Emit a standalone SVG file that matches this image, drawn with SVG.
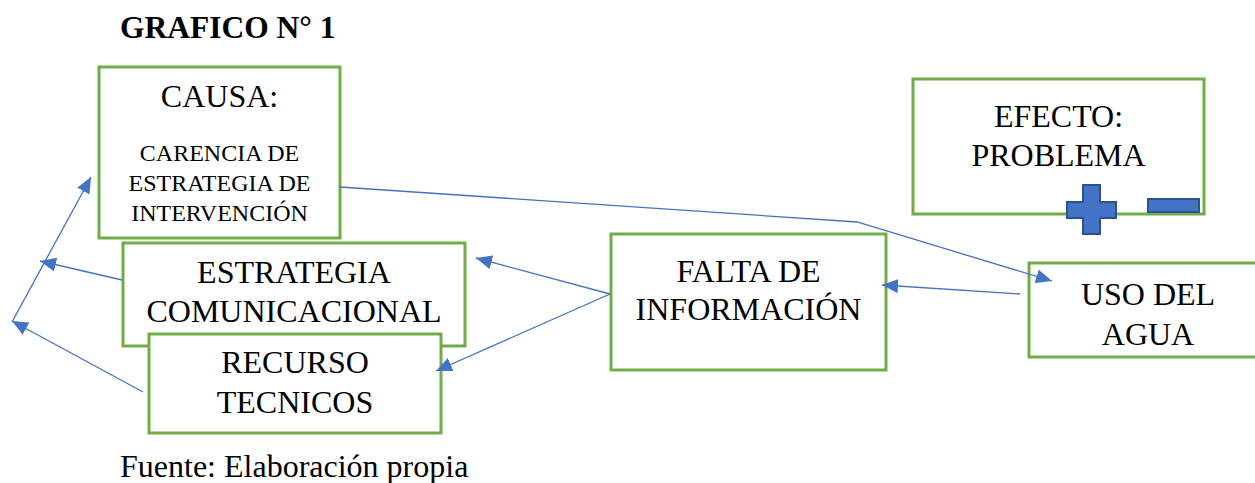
<svg xmlns="http://www.w3.org/2000/svg" width="1255" height="483" viewBox="0 0 1255 483">
<defs>
<style>
.box{fill:#fff;stroke:#70AD47;stroke-width:3}
.t{font-family:"Liberation Serif","Times New Roman",serif;font-size:32px;fill:#000;text-anchor:middle}
.s{font-family:"Liberation Serif","Times New Roman",serif;font-size:24px;fill:#000;text-anchor:middle}
.c{fill:none;stroke:#4472C4;stroke-width:1.3}
.sym{fill:#4472C4;stroke:#2F528F;stroke-width:2}
</style>
<marker id="ah" markerUnits="userSpaceOnUse" markerWidth="18" markerHeight="14" refX="16" refY="7" orient="auto">
<path d="M0,0 L16,7 L0,14 Z" fill="#4472C4"/>
</marker>
</defs>
<rect width="1255" height="483" fill="#fff"/>
<text x="120" y="38" font-family="'Liberation Serif','Times New Roman',serif" font-size="31.5" font-weight="bold">GRAFICO N° 1</text>
<g id="causa">
<rect class="box" x="99" y="67" width="241" height="171"/>
<text class="t" x="219.5" y="107">CAUSA:</text>
<text class="s" x="219.5" y="161">CARENCIA DE</text>
<text class="s" x="219.5" y="191">ESTRATEGIA DE</text>
<text class="s" x="219.5" y="221">INTERVENCIÓN</text>
</g>
<g id="estrategia">
<rect class="box" x="123" y="243" width="342" height="103"/>
<text class="t" x="294" y="283">ESTRATEGIA</text>
<text class="t" x="294" y="322">COMUNICACIONAL</text>
</g>
<g id="recurso">
<rect class="box" x="149" y="334" width="292" height="99"/>
<text class="t" x="295" y="373">RECURSO</text>
<text class="t" x="295" y="413">TECNICOS</text>
</g>
<g id="falta">
<rect class="box" x="611" y="234" width="275" height="136"/>
<text class="t" x="748.5" y="282">FALTA DE</text>
<text class="t" x="748.5" y="320">INFORMACIÓN</text>
</g>
<g id="efecto">
<rect class="box" x="913" y="79" width="291" height="135"/>
<text class="t" x="1058.5" y="127">EFECTO:</text>
<text class="t" x="1058.5" y="166">PROBLEMA</text>
<path class="sym" d="M1083,185 H1100 V202 H1116 V218 H1100 V234 H1083 V218 H1067 V202 H1083 Z"/>
<rect class="sym" x="1148" y="199" width="51" height="13"/>
</g>
<g id="uso">
<rect class="box" x="1029" y="263" width="240" height="94"/>
<text class="t" x="1148" y="305">USO DEL</text>
<text class="t" x="1148" y="345">AGUA</text>
</g>
<g id="connectors">
<polyline class="c" points="340,187 857,222 1052,281" marker-end="url(#ah)"/>
<line class="c" x1="1020" y1="294" x2="882" y2="285" marker-end="url(#ah)"/>
<line class="c" x1="610" y1="294" x2="476" y2="258" marker-end="url(#ah)"/>
<line class="c" x1="610" y1="294" x2="436" y2="371" marker-end="url(#ah)"/>
<line class="c" x1="122" y1="280" x2="40" y2="261" marker-end="url(#ah)"/>
<line class="c" x1="143" y1="392" x2="12" y2="321" marker-end="url(#ah)"/>
<line class="c" x1="12" y1="322" x2="91" y2="177" marker-end="url(#ah)"/>
</g>
<text x="120" y="477" font-family="'Liberation Serif','Times New Roman',serif" font-size="32">Fuente: Elaboración propia</text>
</svg>
